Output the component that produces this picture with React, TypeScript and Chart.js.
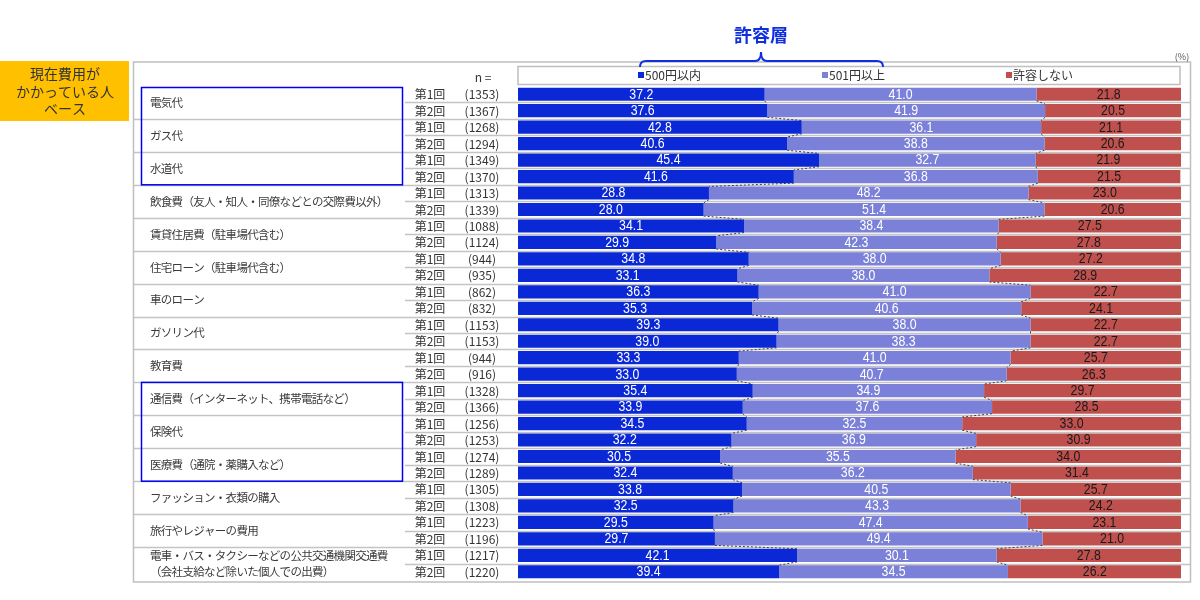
import React, { useEffect, useRef } from "react";
import { Chart, registerables } from "chart.js";

Chart.register(...registerables);

const groupLabels: string[][] = [
  ["電気代"],
  ["ガス代"],
  ["水道代"],
  ["飲食費（友人・知人・同僚などとの交際費以外）"],
  ["賃貸住居費（駐車場代含む）"],
  ["住宅ローン（駐車場代含む）"],
  ["車のローン"],
  ["ガソリン代"],
  ["教育費"],
  ["通信費（インターネット、携帯電話など）"],
  ["保険代"],
  ["医療費（通院・薬購入など）"],
  ["ファッション・衣類の購入"],
  ["旅行やレジャーの費用"],
  ["電車・バス・タクシーなどの公共交通機関交通費", "（会社支給など除いた個人での出費）"],
];
const roundLabels = ["第1回", "第2回"];
const nValues = [
  "(1353)", "(1367)", "(1268)", "(1294)", "(1349)", "(1370)", "(1313)", "(1339)",
  "(1088)", "(1124)", "(944)", "(935)", "(862)", "(832)", "(1153)", "(1153)",
  "(944)", "(916)", "(1328)", "(1366)", "(1256)", "(1253)", "(1274)", "(1289)",
  "(1305)", "(1308)", "(1223)", "(1196)", "(1217)", "(1220)",
];
const within500 = [
  37.2, 37.6, 42.8, 40.6, 45.4, 41.6, 28.8, 28.0, 34.1, 29.9, 34.8, 33.1, 36.3, 35.3, 39.3,
  39.0, 33.3, 33.0, 35.4, 33.9, 34.5, 32.2, 30.5, 32.4, 33.8, 32.5, 29.5, 29.7, 42.1, 39.4,
];
const over501 = [
  41.0, 41.9, 36.1, 38.8, 32.7, 36.8, 48.2, 51.4, 38.4, 42.3, 38.0, 38.0, 41.0, 40.6, 38.0,
  38.3, 41.0, 40.7, 34.9, 37.6, 32.5, 36.9, 35.5, 36.2, 40.5, 43.3, 47.4, 49.4, 30.1, 34.5,
];
const notAllowed = [
  21.8, 20.5, 21.1, 20.6, 21.9, 21.5, 23.0, 20.6, 27.5, 27.8, 27.2, 28.9, 22.7, 24.1, 22.7,
  22.7, 25.7, 26.3, 29.7, 28.5, 33.0, 30.9, 34.0, 31.4, 25.7, 24.2, 23.1, 21.0, 27.8, 26.2,
];
const seriesNames = ["500円以内", "501円以上", "許容しない"];
const titleText = "許容層";
const baseText = ["現在費用が", "かかっている人", "ベース"];

const seriesColors = ["#0A28D6", "#7B80D9", "#C0504D"];
const labelColors = ["#ffffff", "#ffffff", "#1a1a1a"];
const JP = '"Noto Sans CJK JP", "Noto Sans", sans-serif';
const NUM = '"Liberation Sans", Arial, sans-serif';

const rowKeys = nValues.map((_, i) => `${i}`);

const decorPlugin = {
  id: "decor",
  beforeDatasetsDraw(chart: any) {
    const ctx = chart.ctx as any;
    const meta = chart.getDatasetMeta(0);
    const els = meta.data;
    ctx.save();
    // orange base box
    ctx.fillStyle = "#FFC000";
    ctx.fillRect(0, 61, 129, 60);
    ctx.fillStyle = "#333333";
    ctx.font = `14px ${JP}`;
    ctx.textAlign = "center";
    ctx.textBaseline = "middle";
    baseText.forEach((t, i) => ctx.fillText(t, 65, 74 + i * 17.5));

    // frame
    ctx.strokeStyle = "#bfbfbf";
    ctx.lineWidth = 1.5;
    ctx.strokeRect(133.5, 62, 1057, 520);

    // (%)
    ctx.fillStyle = "#555";
    ctx.font = `9px ${JP}`;
    ctx.fillText("(%)", 1182, 57);

    // legend box
    ctx.strokeStyle = "#bfbfbf";
    ctx.lineWidth = 1.5;
    ctx.strokeRect(518, 66.5, 662, 18);
    const legendX = [638, 822, 1006];
    ctx.font = `12px ${JP}`;
    ctx.textAlign = "left";
    seriesNames.forEach((s, i) => {
      ctx.fillStyle = seriesColors[i];
      ctx.fillRect(legendX[i], 72, 6, 6);
      ctx.fillStyle = "#333";
      ctx.fillText(s, legendX[i] + 7, 75.5);
    });

    // bracket
    ctx.strokeStyle = "#1030e0";
    ctx.lineWidth = 2;
    ctx.beginPath();
    ctx.moveTo(640, 67);
    ctx.quadraticCurveTo(640, 61, 646, 61);
    ctx.lineTo(755, 61);
    ctx.quadraticCurveTo(761, 61, 761, 52);
    ctx.quadraticCurveTo(761, 61, 767, 61);
    ctx.lineTo(877, 61);
    ctx.quadraticCurveTo(883, 61, 883, 67);
    ctx.stroke();
    ctx.fillStyle = "#1030e0";
    ctx.font = `bold 18px ${JP}`;
    ctx.textAlign = "center";
    ctx.fillText(titleText, 761, 35);

    // n =
    ctx.fillStyle = "#333";
    ctx.font = `12px ${JP}`;
    ctx.fillText("n =", 483, 77);

    // row separator lines
    ctx.strokeStyle = "#c4c4c4";
    ctx.lineWidth = 1.5;
    for (let i = 0; i < els.length - 1; i++) {
      const yb = Math.round((els[i].y + els[i + 1].y) / 2) + 0.5;
      const x0 = i % 2 === 0 ? 405 : 134;
      ctx.beginPath();
      ctx.moveTo(x0, yb);
      ctx.lineTo(1190, yb);
      ctx.stroke();
    }

    // round and n labels
    ctx.fillStyle = "#333";
    ctx.font = `12px ${JP}`;
    ctx.textAlign = "center";
    els.forEach((el: any, i: number) => {
      ctx.fillText(roundLabels[i % 2], 430, el.y + 0.5);
      ctx.fillText(nValues[i], 482, el.y + 0.5);
    });

    // group labels
    ctx.textAlign = "left";
    ctx.fillStyle = "#3a3a3a";
    ctx.font = `11.5px ${JP}`;
    ctx.letterSpacing = "-0.7px";
    groupLabels.forEach((lines, g) => {
      const mid = (els[2 * g].y + els[2 * g + 1].y) / 2;
      if (lines.length === 1) {
        ctx.fillText(lines[0], 150, mid);
      } else {
        ctx.fillText(lines[0], 150, els[2 * g].y);
        ctx.fillText(lines[1], 150, els[2 * g + 1].y);
      }
    });
    ctx.letterSpacing = "0px";
    ctx.restore();
  },
  afterDatasetsDraw(chart: any) {
    const ctx = chart.ctx as CanvasRenderingContext2D;
    const metas = [0, 1, 2].map((d) => chart.getDatasetMeta(d).data);
    const els = metas[0];
    ctx.save();
    // series lines
    ctx.strokeStyle = "#404040";
    ctx.lineWidth = 1;
    ctx.setLineDash([2, 2]);
    for (let k = 0; k < 2; k++) {
      for (let i = 0; i < els.length - 1; i++) {
        const a = metas[k][i];
        const b = metas[k][i + 1];
        ctx.beginPath();
        ctx.moveTo(a.x, a.y + a.height / 2);
        ctx.lineTo(b.x, b.y - b.height / 2);
        ctx.stroke();
      }
    }
    ctx.setLineDash([]);

    // data labels
    const data = [within500, over501, notAllowed];
    ctx.font = `14px ${NUM}`;
    ctx.textAlign = "center";
    ctx.textBaseline = "middle";
    for (let k = 0; k < 3; k++) {
      ctx.fillStyle = labelColors[k];
      metas[k].forEach((el: any, i: number) => {
        const cx = (el.x + el.base) / 2;
        ctx.save();
        ctx.translate(cx, el.y + 0.5);
        ctx.scale(0.88, 1);
        ctx.fillText(data[k][i].toFixed(1), 0, 0);
        ctx.restore();
      });
    }

    // blue boxes
    const step = els[1].y - els[0].y;
    const bound = (i: number) => (els[i].y + els[i + 1].y) / 2;
    ctx.strokeStyle = "#0000f0";
    ctx.lineWidth = 1.5;
    const top1 = els[0].y - step / 2 + 1.5;
    ctx.strokeRect(141.5, top1, 261, bound(5) - top1);
    const top2 = bound(17);
    ctx.strokeRect(141.5, top2, 261, bound(23) - top2);
    ctx.restore();
  },
};

export default function App() {
  const ref = useRef<HTMLCanvasElement | null>(null);
  useEffect(() => {
    if (!ref.current) return;
    const chart = new Chart(ref.current, {
      type: "bar",
      data: {
        labels: rowKeys,
        datasets: [within500, over501, notAllowed].map((d, i) => ({
          label: seriesNames[i],
          data: d,
          backgroundColor: seriesColors[i],
          borderWidth: 0,
          barPercentage: 0.8,
          categoryPercentage: 1,
        })),
      },
      options: {
        indexAxis: "y",
        responsive: false,
        maintainAspectRatio: false,
        animation: false,
        devicePixelRatio: 1,
        layout: { padding: { left: 518, right: 19, top: 86, bottom: 20 } },
        plugins: { legend: { display: false }, tooltip: { enabled: false } },
        scales: {
          x: { stacked: true, min: 0, max: 100, display: false },
          y: { stacked: true, display: false },
        },
      },
      plugins: [decorPlugin],
    });
    return () => chart.destroy();
  }, []);
  return (
    <div style={{ position: "absolute", left: 0, top: 0, width: 1200, height: 600, background: "#fff" }}>
      <canvas ref={ref} width={1200} height={600} style={{ width: 1200, height: 600 }} />
    </div>
  );
}
